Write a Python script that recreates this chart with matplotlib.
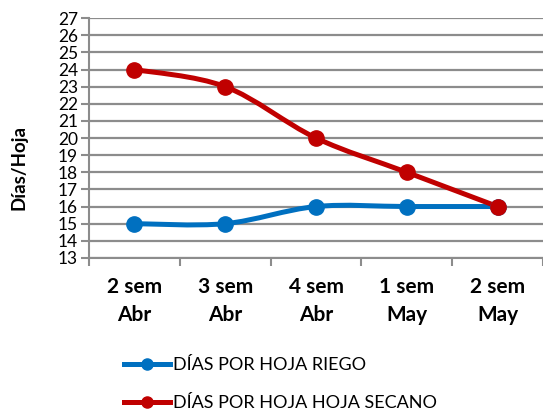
import numpy as np
import matplotlib.pyplot as plt
from matplotlib.path import Path
from matplotlib.patches import PathPatch
from matplotlib.lines import Line2D

# data
weeks = ["2 sem\nAbr", "3 sem\nAbr", "4 sem\nAbr", "1 sem\nMay", "2 sem\nMay"]
riego = [15, 15, 16, 16, 16]
secano = [24, 23, 20, 18, 16]

blue = "#0070C0"
red = "#C00000"
grid_c = "#8c8c8c"

plt.rcParams['font.family'] = ['Lato', 'DejaVu Sans']

fig = plt.figure(figsize=(5.43, 4.12), dpi=100)
ax = fig.add_axes([0.164, 0.374, 0.836, 0.582])


def smooth_path(xs, ys):
    # Catmull-Rom style bezier, like Excel's smoothed line
    pts = np.column_stack([xs, ys]).astype(float)
    verts = [pts[0]]
    codes = [Path.MOVETO]
    n = len(pts)
    for i in range(n - 1):
        p0 = pts[i - 1] if i > 0 else pts[i]
        p1 = pts[i]
        p2 = pts[i + 1]
        p3 = pts[i + 2] if i + 2 < n else pts[i + 1]
        c1 = p1 + (p2 - p0) / 6.0
        c2 = p2 - (p3 - p1) / 6.0
        verts += [c1, c2, p2]
        codes += [Path.CURVE4] * 3
    return Path(verts, codes)


x = np.arange(len(weeks))
for vals, col in [(riego, blue), (secano, red)]:
    ax.add_patch(PathPatch(smooth_path(x, vals), facecolor='none',
                           edgecolor=col, lw=3.6, capstyle='round', zorder=3))
    ax.plot(x, vals, 'o', color=col, markersize=11, zorder=4)

ax.set_xlim(-0.5, 4.5)
ax.set_ylim(13, 27)
ax.set_yticks(range(13, 28))
ax.set_xticks(x)
ax.set_xticklabels(weeks, fontsize=15, fontweight='bold', linespacing=1.5)
ax.set_xticks(np.arange(-0.5, 5.0, 1.0), minor=True)
ax.tick_params(axis='x', which='major', length=0, pad=14)
ax.tick_params(axis='x', which='minor', length=6, width=1.5, color=grid_c)
ax.tick_params(axis='y', length=6, width=1.5, color=grid_c, labelsize=12.5, pad=2)

ax.grid(axis='y', color=grid_c, lw=1.6)
ax.set_axisbelow(True)
for s in ['top', 'right']:
    ax.spines[s].set_visible(False)
for s in ['left', 'bottom']:
    ax.spines[s].set_color(grid_c)
    ax.spines[s].set_linewidth(1.5)

ax.set_ylabel("Días/Hoja", fontsize=13.5, fontweight='bold')
ax.yaxis.set_label_coords(-0.135, 0.375)

handles = [Line2D([], [], color=blue, lw=3.6, marker='o', markersize=8),
           Line2D([], [], color=red, lw=3.6, marker='o', markersize=8)]
fig.legend(handles, ["DÍAS POR HOJA RIEGO", "DÍAS POR HOJA HOJA SECANO"],
           loc='upper left', bbox_to_anchor=(0.2152, 0.1504), frameon=False,
           fontsize=13, handlelength=2.55, handletextpad=0.15, labelspacing=1.23,
           borderaxespad=0)

fig.savefig("out.png", dpi=100)
